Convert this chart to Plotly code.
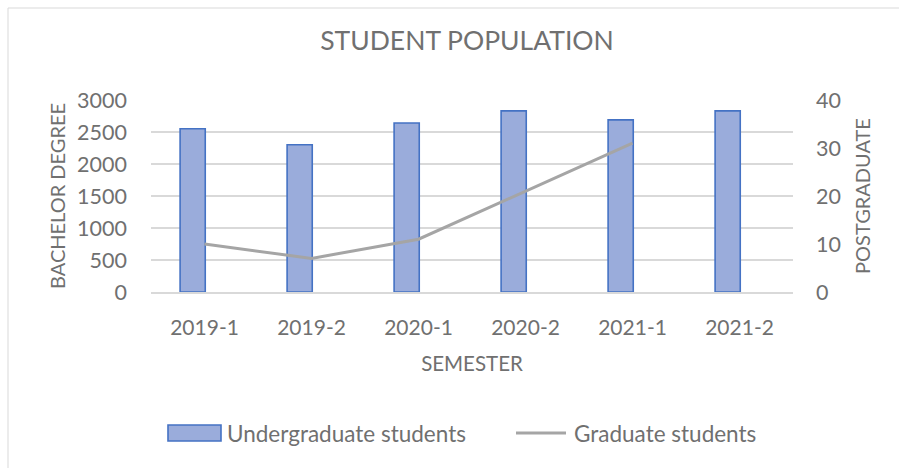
import plotly.graph_objects as go

semesters = ["2019-1", "2019-2", "2020-1", "2020-2", "2021-1", "2021-2"]
undergrad = [2550, 2300, 2640, 2830, 2690, 2830]
graduate = [10, 7, 11, 21, 31, None]
undergrad_name = "Undergraduate students"
graduate_name = "Graduate students"

W, H = 899, 468
L, R, T, B = 151, 106, 100, 176
PW, PH = W - L - R, H - T - B

def px(x):
    return (x - L) / PW

def py(y):
    return (H - B - y) / PH

FONT = "Lato"
GREY = "#707070"

fig = go.Figure()
fig.add_trace(go.Bar(
    x=semesters, y=undergrad, name=undergrad_name,
    marker=dict(color="#9AACDB", line=dict(color="#4472C4", width=1.6)),
    width=0.235, offset=-0.228, showlegend=False,
))
fig.add_trace(go.Scatter(
    x=semesters, y=graduate, name=graduate_name, yaxis="y2",
    mode="lines", line=dict(color="#A5A5A5", width=3), showlegend=False,
))

shapes = [
    dict(type="rect", xref="paper", yref="paper",
         x0=px(8), x1=px(W + 10), y0=py(H + 10), y1=py(8),
         line=dict(color="#D9D9D9", width=1), fillcolor="rgba(0,0,0,0)", layer="below"),
    dict(type="rect", xref="paper", yref="paper",
         x0=px(168), x1=px(221), y0=py(441), y1=py(425),
         line=dict(color="#4472C4", width=1.6), fillcolor="#9AACDB"),
    dict(type="line", xref="paper", yref="paper",
         x0=px(516), x1=px(566), y0=py(433), y1=py(433),
         line=dict(color="#A5A5A5", width=3)),
]
annotations = [
    dict(text=undergrad_name, xref="paper", yref="paper", x=px(225), y=py(433),
         xanchor="left", yanchor="middle", showarrow=False,
         font=dict(family=FONT, size=22.5, color=GREY)),
    dict(text=graduate_name, xref="paper", yref="paper", x=px(572), y=py(433),
         xanchor="left", yanchor="middle", showarrow=False,
         font=dict(family=FONT, size=22.5, color=GREY)),
]

fig.update_layout(
    width=W, height=H,
    margin=dict(l=L, r=R, t=T, b=B, autoexpand=False),
    paper_bgcolor="white", plot_bgcolor="white",
    font=dict(family=FONT, size=21, color=GREY),
    title=dict(text="STUDENT POPULATION", x=467 / W, xanchor="center",
               y=1 - 41 / H, yanchor="middle", yref="container",
               font=dict(family=FONT, size=26.5, color=GREY)),
    xaxis=dict(type="category", showgrid=False, showline=True, linecolor="#D9D9D9",
               linewidth=1.5, ticks="", ticklabelstandoff=16, tickfont=dict(size=21),
               title=dict(text="SEMESTER", standoff=19, font=dict(size=20.5))),
    yaxis=dict(range=[0, 3000], dtick=500, showgrid=True, gridcolor="#D9D9D9",
               gridwidth=1.5, zeroline=False, ticks="", ticklabelstandoff=23,
               tickfont=dict(size=21.5),
               title=dict(text="BACHELOR DEGREE", standoff=6, font=dict(size=20))),
    yaxis2=dict(range=[0, 40], dtick=10, overlaying="y", side="right",
                showgrid=False, zeroline=False, ticks="", ticklabelstandoff=22,
                tickfont=dict(size=21.5),
                title=dict(text="POSTGRADUATE", standoff=16, font=dict(size=20))),
    shapes=shapes, annotations=annotations, showlegend=False,
)

fig.write_html("out.html", config={"displayModeBar": False},
               post_script="document.body.style.margin='0';document.body.style.overflow='hidden';")
